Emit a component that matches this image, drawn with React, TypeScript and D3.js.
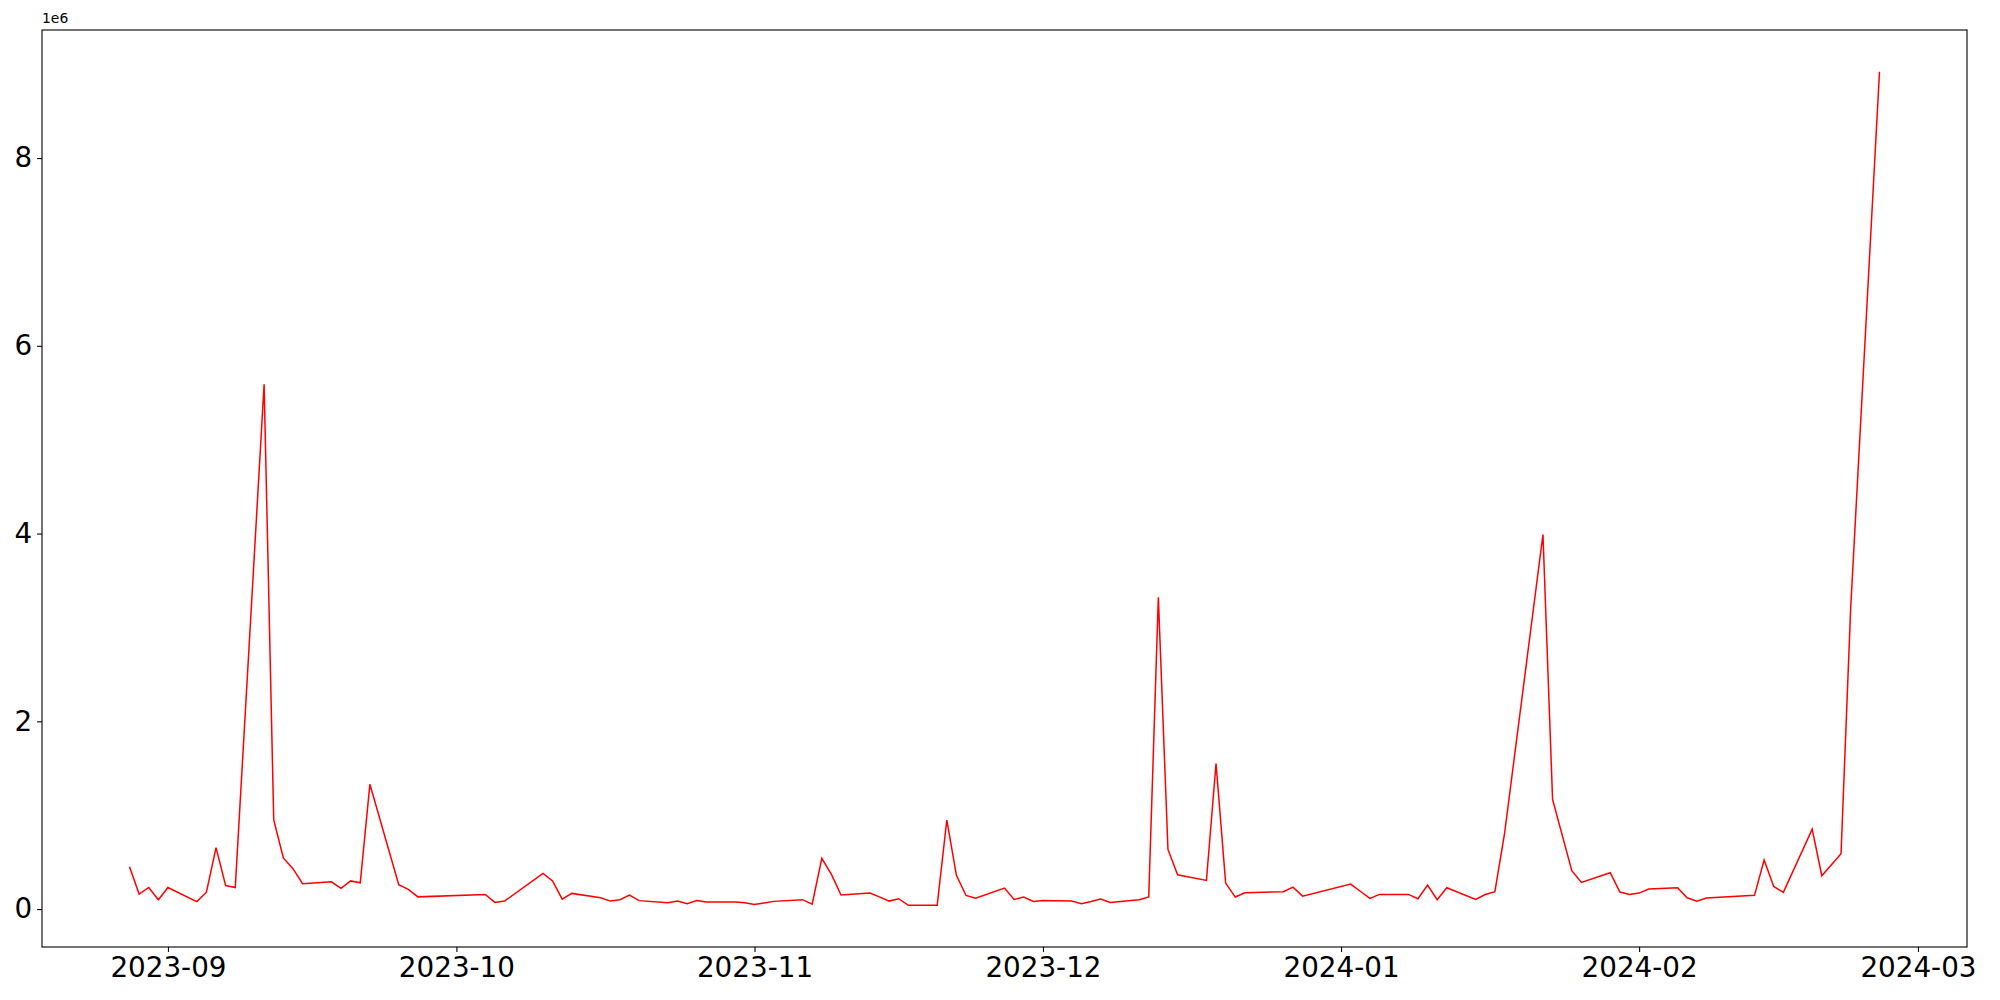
import * as d3 from "d3";
import { useEffect, useRef } from "react";

// trading days (2023-08-28 .. 2024-02-26) and the volume on each
const dates = [
  "2023-08-28", "2023-08-29", "2023-08-30", "2023-08-31", "2023-09-01",
  "2023-09-04", "2023-09-05", "2023-09-06", "2023-09-07", "2023-09-08",
  "2023-09-11", "2023-09-12", "2023-09-13", "2023-09-14", "2023-09-15",
  "2023-09-18", "2023-09-19", "2023-09-20", "2023-09-21", "2023-09-22",
  "2023-09-25", "2023-09-26", "2023-09-27",
  "2023-10-04", "2023-10-05", "2023-10-06",
  "2023-10-10", "2023-10-11", "2023-10-12", "2023-10-13",
  "2023-10-16", "2023-10-17", "2023-10-18", "2023-10-19", "2023-10-20",
  "2023-10-23", "2023-10-24", "2023-10-25", "2023-10-26", "2023-10-27",
  "2023-10-30", "2023-10-31", "2023-11-01", "2023-11-02", "2023-11-03",
  "2023-11-06", "2023-11-07", "2023-11-08", "2023-11-09", "2023-11-10",
  "2023-11-13", "2023-11-14", "2023-11-15", "2023-11-16", "2023-11-17",
  "2023-11-20", "2023-11-21", "2023-11-22", "2023-11-23", "2023-11-24",
  "2023-11-27", "2023-11-28", "2023-11-29", "2023-11-30", "2023-12-01",
  "2023-12-04", "2023-12-05", "2023-12-06", "2023-12-07", "2023-12-08",
  "2023-12-11", "2023-12-12", "2023-12-13", "2023-12-14", "2023-12-15",
  "2023-12-18", "2023-12-19", "2023-12-20", "2023-12-21", "2023-12-22",
  "2023-12-26", "2023-12-27", "2023-12-28",
  "2024-01-02", "2024-01-03", "2024-01-04", "2024-01-05",
  "2024-01-08", "2024-01-09", "2024-01-10", "2024-01-11", "2024-01-12",
  "2024-01-15", "2024-01-16", "2024-01-17", "2024-01-18",
  "2024-01-22", "2024-01-23", "2024-01-24", "2024-01-25", "2024-01-26",
  "2024-01-29", "2024-01-30", "2024-01-31", "2024-02-01", "2024-02-02",
  "2024-02-05", "2024-02-06", "2024-02-07", "2024-02-08",
  "2024-02-13", "2024-02-14", "2024-02-15", "2024-02-16",
  "2024-02-19", "2024-02-20", "2024-02-22", "2024-02-23",
  "2024-02-26",
];

const volumes = [
  450000, 160000, 230000, 100000, 230000,
  80000, 180000, 655000, 250000, 230000,
  5590000, 950000, 545000, 430000, 270000,
  290000, 220000, 300000, 280000, 1330000,
  260000, 210000, 130000,
  156000, 71000, 85000,
  380000, 300000, 106000, 167000,
  120000, 85000, 100000, 150000, 90000,
  67000, 85000, 57000, 90000, 75000,
  75000, 67000, 50000, 65000, 82000,
  100000, 53000, 540000, 370000, 150000,
  170000, 130000, 85000, 110000, 40000,
  40000, 948000, 360000, 145000, 116000,
  224000, 103000, 128000, 82000, 90000,
  85000, 57000, 80000, 106000, 70000,
  100000, 130000, 3320000, 635000, 365000,
  305000, 1550000, 277000, 128000, 174000,
  185000, 234000, 138000,
  266000, 190000, 114000, 156000,
  156000, 110000, 256000, 100000, 227000,
  103000, 155000, 185000, 800000,
  3990000, 1168000, 788000, 408000, 284000,
  387000, 181000, 156000, 170000, 213000,
  227000, 120000, 85000, 117000,
  146000, 522000, 241000, 178000,
  852000, 355000, 590000, 3200000,
  8920000,
];

const xTickLabels = ["2023-09", "2023-10", "2023-11", "2023-12", "2024-01", "2024-02", "2024-03"];
const yTicks = [0, 2, 4, 6, 8];

export default function App() {
  const chartRef = useRef<HTMLDivElement>(null);

  useEffect(() => {
    const width = 2000;
    const height = 1000;
    const marginTop = 30;
    const marginRight = 33;
    const marginBottom = 53;
    const marginLeft = 42;

    const parse = d3.utcParse("%Y-%m-%d");
    const data = dates.map((d, i) => ({ date: parse(d)!, value: volumes[i] }));

    // matplotlib style 5% padding around the data
    const [t0, t1] = d3.extent(data, d => d.date.getTime()) as [number, number];
    const tp = (t1 - t0) * 0.05;
    const [v0, v1] = d3.extent(data, d => d.value) as [number, number];
    const vp = (v1 - v0) * 0.05;

    const x = d3.scaleUtc()
      .domain([new Date(t0 - tp), new Date(t1 + tp)])
      .range([marginLeft, width - marginRight]);

    const y = d3.scaleLinear()
      .domain([v0 - vp, v1 + vp])
      .range([height - marginBottom, marginTop]);

    const root = d3.select(chartRef.current);
    root.selectAll("*").remove();

    const svg = root.append("svg")
      .attr("width", width)
      .attr("height", height)
      .style("position", "absolute")
      .style("left", 0)
      .style("top", 0)
      .style("background", "#fff")
      .style("font-family", "'DejaVu Sans', sans-serif");

    const line = d3.line<{ date: Date; value: number }>()
      .x(d => x(d.date))
      .y(d => y(d.value));

    svg.append("path")
      .datum(data)
      .attr("fill", "none")
      .attr("stroke", "#ff0000")
      .attr("stroke-width", 1.5)
      .attr("stroke-linejoin", "miter")
      .attr("d", line);

    // x-axis
    const xTicks = xTickLabels.map(s => parse(s + "-01")!);
    svg.append("g")
      .attr("transform", `translate(0,${height - marginBottom})`)
      .call(d3.axisBottom(x).tickValues(xTicks).tickFormat(d3.utcFormat("%Y-%m") as any)
        .tickSize(4.9).tickPadding(4.9))
      .call(g => g.select(".domain").remove())
      .call(g => g.selectAll("line").attr("stroke", "#000").attr("stroke-width", 1.1))
      .call(g => g.selectAll("text").attr("font-size", 27.8).attr("fill", "#000")
        .attr("font-family", "'DejaVu Sans', sans-serif"));

    // y-axis
    svg.append("g")
      .attr("transform", `translate(${marginLeft},0)`)
      .call(d3.axisLeft(y).tickValues(yTicks.map(v => v * 1e6)).tickFormat(d => String(+d / 1e6))
        .tickSize(4.9).tickPadding(4.9))
      .call(g => g.select(".domain").remove())
      .call(g => g.selectAll("line").attr("stroke", "#000").attr("stroke-width", 1.1))
      .call(g => g.selectAll("text").attr("font-size", 27.8).attr("fill", "#000")
        .attr("font-family", "'DejaVu Sans', sans-serif"));

    // frame
    svg.append("rect")
      .attr("x", marginLeft)
      .attr("y", marginTop)
      .attr("width", width - marginLeft - marginRight)
      .attr("height", height - marginTop - marginBottom)
      .attr("fill", "none")
      .attr("stroke", "#000")
      .attr("stroke-width", 1.1);

    // offset text
    svg.append("text")
      .attr("x", marginLeft)
      .attr("y", marginTop - 7)
      .attr("font-size", 13.9)
      .attr("fill", "#000")
      .text("1e6");
  }, []);

  return <div ref={chartRef}></div>;
}
